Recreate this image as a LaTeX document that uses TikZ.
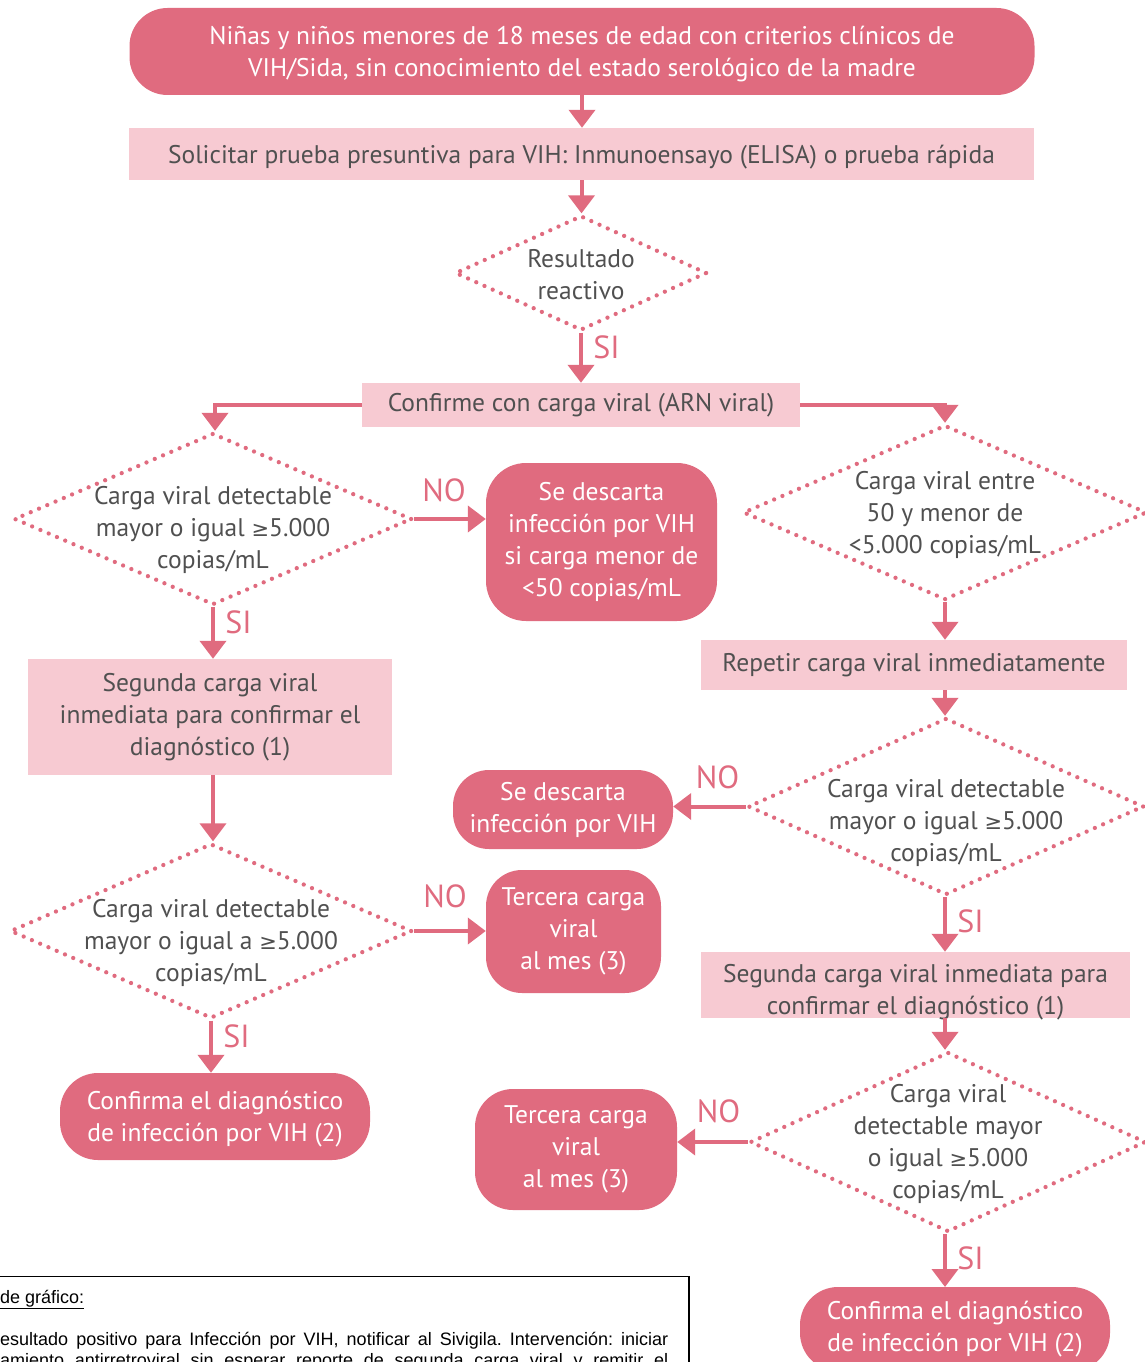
\documentclass[tikz,border=0pt]{standalone}
\usepackage{fontspec}
\setmainfont{PT Sans}
\newfontfamily\symf{DejaVu Sans}
\newfontfamily\arialf{Liberation Sans}
\usetikzlibrary{shapes.geometric,arrows.meta}
\definecolor{dpink}{HTML}{E06B7F}
\definecolor{lpink}{HTML}{F7CAD2}
\definecolor{gtext}{HTML}{505050}
\newcommand{\gesym}{{\symf\fontsize{21}{25}\selectfont ≥}}
\frenchspacing
\tikzset{
  darkbox/.style={fill=dpink, text=white, rounded corners=38pt, align=center, inner sep=0pt},
  lightbox/.style={fill=lpink, text=gtext, align=center, inner sep=0pt},
  dia/.style={shape=diamond, draw=dpink, line width=4.3pt, dash pattern=on 0pt off 9pt, line cap=round, inner sep=0pt},
  dtext/.style={text=gtext, align=center},
  arr/.style={draw=dpink, line width=4pt, -{Triangle[width=26pt,length=18pt]}},
  lab/.style={text=dpink, font=\fontsize{32}{34}\selectfont},
  legtext/.style={anchor=base west, inner sep=0pt, font=\arialf\fontsize{18}{21}\selectfont},
}
\begin{document}
\begin{tikzpicture}[x=1pt,y=-1pt, font=\fontsize{25.5}{32}\selectfont]
\useasboundingbox (0,0) rectangle (1145,1362);
\clip (0,0) rectangle (1145,1362);
% top
\node[darkbox, minimum width=905pt, minimum height=87pt,
  label={[text=white, align=center, yshift=-3pt]center:{Niñas y niños menores de 18 meses de edad con criterios clínicos de\\VIH/Sida, sin conocimiento del estado serológico de la madre}}] (top) at (582,51.5) {};
\node[lightbox, minimum width=905pt, minimum height=52pt,
  label={[text=gtext, yshift=-3pt]center:{Solicitar prueba presuntiva para VIH: Inmunoensayo (ELISA) o prueba rápida}}] (sol) at (581.5,154) {};
\node[dia, minimum width=252pt, minimum height=115pt, label={[dtext, yshift=-2pt]center:{Resultado\\reactivo}}] (d1) at (581,273) {};
\node[lightbox, minimum width=438pt, minimum height=44pt] (conf) at (581,405)
  {Confirme con carga viral (ARN viral)};
% left column
\node[dia, minimum width=398pt, minimum height=172pt, label={[dtext, yshift=-11pt]center:{Carga viral detectable\\mayor o igual \gesym5.000\\copias/mL}}] (d2) at (213,519) {};
\node[darkbox, minimum width=231pt, minimum height=158pt, rounded corners=40pt] (desc1) at (601.5,542)
  {Se descarta\\infección por VIH\\si carga menor de\\<50 copias/mL};
\node[lightbox, minimum width=364pt, minimum height=116pt] (seg1) at (210,717)
  {Segunda carga viral\\inmediata para confirmar el\\diagnóstico (1)};
\node[dia, minimum width=402pt, minimum height=175pt, label={[dtext, yshift=-12pt]center:{Carga viral detectable\\mayor o igual a \gesym5.000\\copias/mL}}] (d4) at (211,931) {};
\node[darkbox, minimum width=175pt, minimum height=123pt, rounded corners=36pt] (ter1) at (573.5,931.5)
  {Tercera carga\\viral\\al mes (3)};
\node[darkbox, minimum width=310pt, minimum height=87pt, rounded corners=38pt,
  label={[text=white, align=center, yshift=-3pt]center:{Confirma el diagnóstico\\de infección por VIH (2)}}] (cfm1) at (215,1116.5) {};
% right column
\node[dia, minimum width=404pt, minimum height=175pt, label={[dtext, yshift=-2pt]center:{Carga viral entre\\50 y menor de\\<5.000 copias/mL}}] (d3) at (945,512.5) {};
\node[lightbox, minimum width=426pt, minimum height=50pt] (rep) at (914,665)
  {Repetir carga viral inmediatamente};
\node[dia, minimum width=396pt, minimum height=177pt, label={[dtext, yshift=-16pt]center:{Carga viral detectable\\mayor o igual \gesym5.000\\copias/mL}}] (d5) at (946,806.5) {};
\node[darkbox, minimum width=220pt, minimum height=79pt, rounded corners=36pt] (desc2) at (563,809.5)
  {Se descarta\\infección por VIH};
\node[lightbox, minimum width=429pt, minimum height=66pt,
  label={[text=gtext, align=center, yshift=-7pt]center:{Segunda carga viral inmediata para\\confirmar el diagnóstico (1)}}] (seg2) at (915.5,985) {};
\node[dia, minimum width=396pt, minimum height=180pt, label={[dtext, yshift=-2pt]center:{Carga viral\\detectable mayor\\o igual \gesym5.000\\copias/mL}}] (d6) at (948,1142) {};
\node[darkbox, minimum width=202pt, minimum height=121pt, rounded corners=38pt] (ter2) at (576,1149.5)
  {Tercera carga\\viral\\al mes (3)};
\node[darkbox, minimum width=310pt, minimum height=84pt, rounded corners=38pt] (cfm2) at (955,1329)
  {Confirma el diagnóstico\\de infección por VIH (2)};
\coordinate (cfm2n) at (945,1287);
% connectors
\draw[arr] (top.south) -- (top.south |- sol.north);
\draw[arr] (sol.south) -- (sol.south |- d1.north);
\draw[arr] (d1.south) -- (d1.south |- conf.north) node[lab, pos=0.3, right=7pt] {SI};
\draw[arr] (conf.west) -| (d2.north -| 215,0);
\draw[arr] (conf.east) -| (d3.north);
\draw[arr] (d2.east) -- (desc1.west |- d2.east) node[lab, midway, above=12pt, xshift=-6pt] {NO};
\draw[arr] (d2.south) -- (d2.south |- seg1.north) node[lab, pos=0.3, right=7pt] {SI};
\draw[arr] (d2.south |- seg1.south) -- (d2.south |- d4.north);
\draw[arr] (d4.east) -- (ter1.west |- d4.east) node[lab, midway, above=18pt, xshift=-5pt] {NO};
\draw[arr] (d4.south) -- (d4.south |- cfm1.north) node[lab, pos=0.3, right=7pt] {SI};
\draw[arr] (d3.south) -- (d3.south |- rep.north);
\draw[arr] (d3.south |- rep.south) -- (d3.south |- d5.north);
\draw[arr] (d5.west) -- (desc2.east |- d5.west) node[lab, midway, above=12pt, xshift=8pt] {NO};
\draw[arr] (d5.south -| d3.south) -- (d3.south |- seg2.north) node[lab, pos=0.45, right=7pt] {SI};
\draw[arr] (d3.south |- seg2.south) -- (d3.south |- d6.north);
\draw[arr] (d6.west) -- (ter2.east |- d6.west) node[lab, midway, above=14pt, xshift=6pt] {NO};
\draw[arr] (d6.south -| d3.south) -- (cfm2n) node[lab, pos=0.45, right=7pt] {SI};
% legend box
\draw[black, line width=1.2pt] (-10,1400) -- (-10,1276.5) -- (689,1276.5) -- (689,1400);
\node[legtext] (leg1) at (0,1303) {\underline{de gráfico:}};
\node[legtext] (leg2) at (0,1345)
  {\makebox[668pt][s]{esultado positivo para Infección por VIH, notificar al Sivigila. Intervención: iniciar}};
\node[legtext] (leg3) at (0,1366)
  {\makebox[668pt][s]{amiento antirretroviral sin esperar reporte de segunda carga viral y remitir el}};
\end{tikzpicture}
\end{document}
